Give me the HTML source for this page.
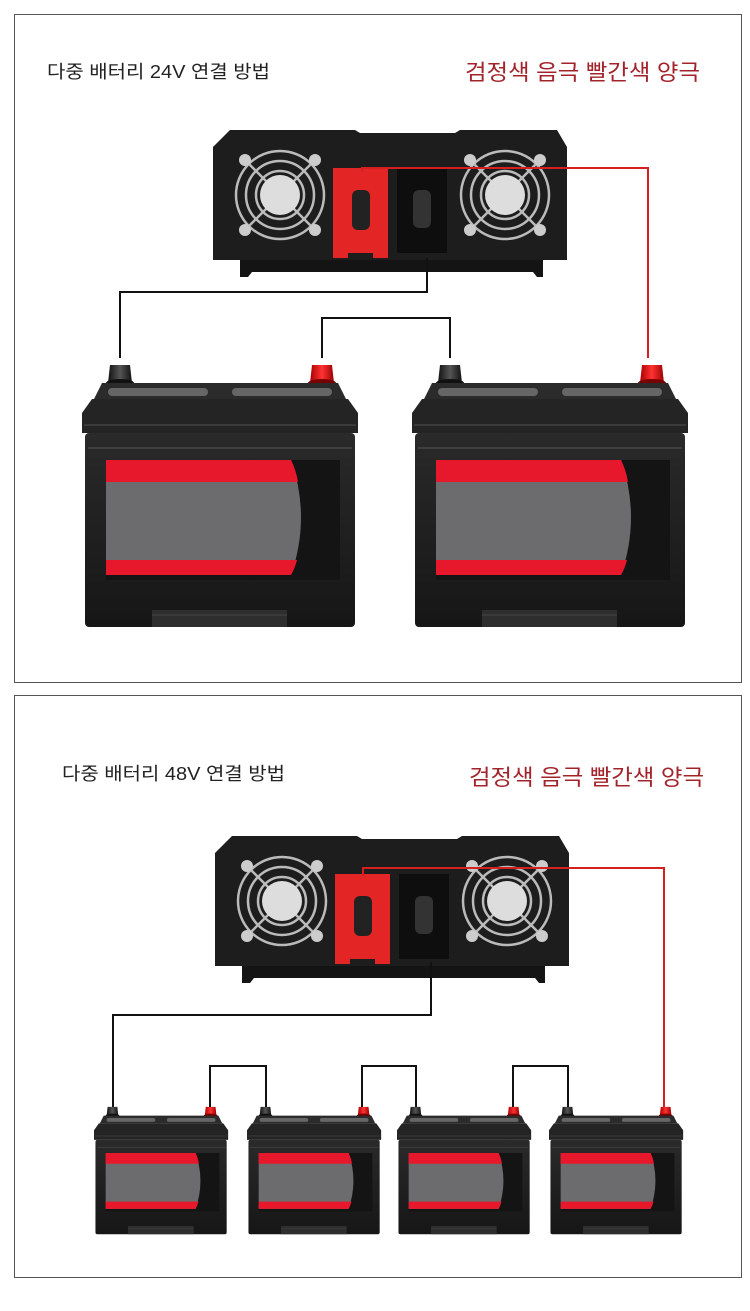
<!DOCTYPE html>
<html><head><meta charset="utf-8"><style>
body{margin:0;background:#fff;width:750px;height:1311px;overflow:hidden}
svg{display:block}
</style></head><body>
<svg width="750" height="1311" viewBox="0 0 750 1311" xmlns="http://www.w3.org/2000/svg">
<defs>
<linearGradient id="bd" x1="0" x2="0" y1="0" y2="1"><stop offset="0" stop-color="#2a2a2a"/><stop offset="1" stop-color="#161616"/></linearGradient>
<linearGradient id="rp" x1="0" x2="1"><stop offset="0" stop-color="#a00"/><stop offset=".5" stop-color="#f33"/><stop offset="1" stop-color="#900"/></linearGradient>
<linearGradient id="bp" x1="0" x2="1"><stop offset="0" stop-color="#111"/><stop offset=".5" stop-color="#555"/><stop offset="1" stop-color="#111"/></linearGradient>
<g id="bat">
  <path d="M28 10 h20 l2 18 h-24z" fill="url(#bp)"/>
  <ellipse cx="38" cy="28" rx="14" ry="4" fill="#111"/>
  <path d="M230 10 h20 l2 18 h-24z" fill="url(#rp)"/>
  <ellipse cx="240" cy="28" rx="14" ry="4" fill="#700"/>
  <path d="M20 28 h236 l8 16 h-252z" fill="#2b2b2b"/>
  <rect x="26" y="33" width="100" height="8" rx="4" fill="#666"/>
  <rect x="150" y="33" width="100" height="8" rx="4" fill="#666"/>
  <path d="M10 44 h256 l10 14 v20 h-276 v-20z" fill="#242424"/>
  <line x1="2" y1="70" x2="274" y2="70" stroke="#3a3a3a" stroke-width="2"/>
  <rect x="3" y="78" width="270" height="194" rx="4" fill="url(#bd)"/>
  <line x1="6" y1="93" x2="270" y2="93" stroke="#555" stroke-width="1"/>
  <rect x="24" y="105" width="234" height="120" fill="#141414"/>
  <path d="M24 105 h185 q20 57 0 115 h-185z" fill="#6c6c6e"/>
  <path d="M24 105 h185 q5 10 7 22 h-192z" fill="#e8182c"/>
  <path d="M24 205 h191 q-2 8 -6 15 h-185z" fill="#e8182c"/>
  <rect x="70" y="255" width="135" height="17" fill="#2e2e2e"/>
  <line x1="70" y1="260" x2="205" y2="260" stroke="#444"/>
</g>
<g id="inv">
  <path d="M15 2 H140 L145 5 H240 L245 2 H342 L352 19 V132 H-2 V19z" fill="#1d1d1d"/>
  <path d="M25 132 H328 V149 H322 L318 144 H37 L33 149 H25z" fill="#141414"/>
  <g fill="none" stroke="#bbb" stroke-width="2.5">
    <circle cx="65" cy="67" r="44"/><circle cx="65" cy="67" r="34"/><circle cx="65" cy="67" r="24"/>
    <circle cx="290" cy="67" r="44"/><circle cx="290" cy="67" r="34"/><circle cx="290" cy="67" r="24"/>
    <path d="M30 32 L100 102 M100 32 L30 102 M255 32 L325 102 M325 32 L255 102"/>
  </g>
  <circle cx="65" cy="67" r="20" fill="#ddd"/><circle cx="290" cy="67" r="20" fill="#ddd"/>
  <g fill="#ccc"><circle cx="30" cy="32" r="6"/><circle cx="100" cy="32" r="6"/><circle cx="30" cy="102" r="6"/><circle cx="100" cy="102" r="6"/>
  <circle cx="255" cy="32" r="6"/><circle cx="325" cy="32" r="6"/><circle cx="255" cy="102" r="6"/><circle cx="325" cy="102" r="6"/></g>
  <path d="M118 40 h55 v90 h-15 v-5 h-25 v5 h-15z" fill="#e32525"/>
  <rect x="137" y="62" width="18" height="40" rx="6" fill="#222"/>
  <path d="M182 40 h50 v85 h-50z" fill="#0e0e0e"/>
  <rect x="198" y="62" width="18" height="38" rx="6" fill="#333"/>
</g>
</defs>
<rect x="14.5" y="14.5" width="727" height="668" fill="none" stroke="#555"/>
<rect x="14.5" y="695.5" width="727" height="582" fill="none" stroke="#555"/>
<g font-family="'Liberation Sans','Noto Sans CJK KR',sans-serif">
<text x="47" y="78" font-size="18" fill="#222" textLength="223" lengthAdjust="spacingAndGlyphs">다중 배터리 24V 연결 방법</text>
<text x="465" y="80" font-size="22" fill="#a3232b" textLength="235" lengthAdjust="spacingAndGlyphs">검정색 음극 빨간색 양극</text>
<text x="62" y="780" font-size="18" fill="#222" textLength="223" lengthAdjust="spacingAndGlyphs">다중 배터리 48V 연결 방법</text>
<text x="469" y="785" font-size="22" fill="#a3232b" textLength="235" lengthAdjust="spacingAndGlyphs">검정색 음극 빨간색 양극</text>
</g>
<!-- top -->
<use href="#inv" transform="translate(215,128)"/>
<use href="#bat" transform="translate(82,355)"/>
<use href="#bat" transform="translate(412,355)"/>
<g fill="none" stroke-width="2">
<path d="M427 258 V292 H120 V358" stroke="#111"/>
<path d="M322 358 V318 H450 V358" stroke="#111"/>
<path d="M362 172 V168 H648 V358" stroke="#d42020"/>
</g>
<!-- bottom -->
<use href="#inv" transform="translate(217,834)"/>
<use href="#bat" transform="translate(94,1102) scale(0.486)"/>
<use href="#bat" transform="translate(247,1102) scale(0.486)"/>
<use href="#bat" transform="translate(397,1102) scale(0.486)"/>
<use href="#bat" transform="translate(549,1102) scale(0.486)"/>
<g fill="none" stroke-width="2">
<path d="M431 962 V1015 H113 V1107" stroke="#111"/>
<path d="M210 1107 V1066 H266 V1107" stroke="#111"/>
<path d="M362 1107 V1066 H416 V1107" stroke="#111"/>
<path d="M513 1107 V1066 H568 V1107" stroke="#111"/>
<path d="M363 876 V868 H664 V1107" stroke="#d42020"/>
</g>
</svg>
</body></html>
